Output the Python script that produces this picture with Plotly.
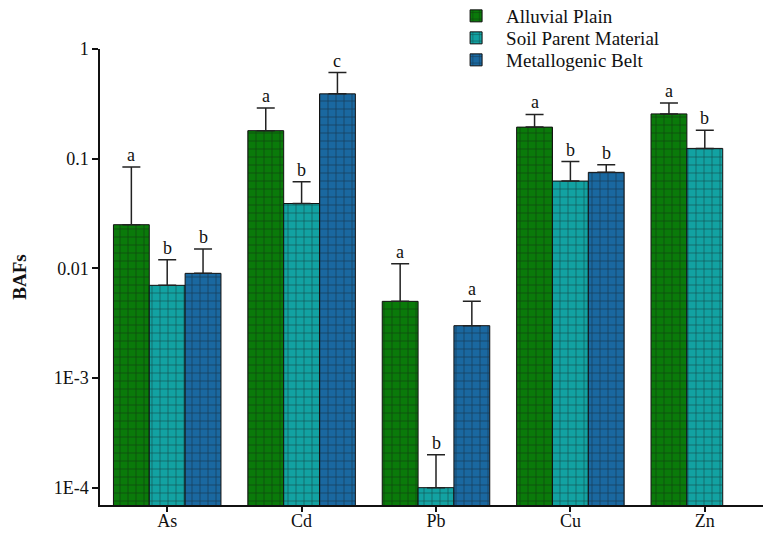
import math
import plotly.graph_objects as go

elements = ["As", "Cd", "Pb", "Cu", "Zn"]
series_names = ["Alluvial Plain", "Soil Parent Material", "Metallogenic Belt"]
alluvial = [0.025, 0.18, 0.005, 0.194, 0.256]
alluvial_top = [0.084, 0.29, 0.011, 0.253, 0.322]
parent = [0.007, 0.039, 0.0001, 0.0625, 0.124]
parent_top = [0.012, 0.0615, 0.0002, 0.094, 0.182]
belt = [0.009, 0.39, 0.003, 0.075, None]
belt_top = [0.015, 0.61, 0.005, 0.088, None]
alluvial_letters = ["a", "a", "a", "a", "a"]
parent_letters = ["b", "b", "b", "b", "b"]
belt_letters = ["b", "c", "a", "b", None]

colors = ["#0A7A0A", "#12A2A2", "#1A68A0"]
serif = "'Liberation Serif', 'Times New Roman', serif"

values = [alluvial, parent, belt]
tops = [alluvial_top, parent_top, belt_top]
letters = [alluvial_letters, parent_letters, belt_letters]
legend_ids = ["legend", "legend2", "legend3"]
legend_rows_px = [8, 30, 52]

fig = go.Figure()
for i in range(3):
    vals = values[i]
    errs = [(t - v) if (t is not None and v is not None) else None for v, t in zip(vals, tops[i])]
    fig.add_trace(go.Bar(
        name=series_names[i], x=elements, y=vals, legend=legend_ids[i],
        marker=dict(color=colors[i], line=dict(color="#111111", width=1),
                    pattern=dict(shape="+", fgcolor="#111111", bgcolor=colors[i],
                                 size=8, solidity=0.18, fillmode="overlay")),
        error_y=dict(type="data", array=errs, arrayminus=[0]*len(errs), symmetric=False,
                     color="#222222", thickness=1.5, width=9),
    ))

bar_w = 0.8 / 3
for i in range(3):
    for j, el in enumerate(elements):
        if letters[i][j] is None:
            continue
        fig.add_annotation(x=j + (i - 1) * bar_w, y=math.log10(tops[i][j]),
                           xref="x", yref="y", text=letters[i][j], showarrow=False,
                           yanchor="bottom", yshift=0,
                           font=dict(family=serif, size=18, color="#111111"))

plot_top, plot_h = 41, 456
legend_layouts = {}
for i, lid in enumerate(legend_ids):
    legend_layouts[lid] = dict(
        x=0.515, y=1 + (plot_top - legend_rows_px[i]) / plot_h, xref="paper", yref="paper",
        xanchor="left", yanchor="middle",
        font=dict(family=serif, size=19, color="#111111"),
        bgcolor="rgba(0,0,0,0)", itemwidth=50)

fig.update_layout(
    width=771, height=533,
    margin=dict(l=92, r=7, t=41, b=36, autoexpand=False),
    paper_bgcolor="white", plot_bgcolor="white",
    barmode="group", bargap=0.2, bargroupgap=0,
    font=dict(family=serif, size=18, color="#111111"),
    showlegend=True,
    **legend_layouts,
)
fig.update_xaxes(
    type="category", range=[-0.5, 4.5], showline=True, linecolor="#111111", linewidth=1.5,
    ticks="outside", ticklen=5, tickwidth=1.5, tickcolor="#111111", showgrid=False,
    tickfont=dict(family=serif, size=18), ticklabelstandoff=-6,
)
fig.update_yaxes(
    type="log", range=[-4.158, 0], showline=True, linecolor="#111111", linewidth=1.5,
    ticks="outside", ticklen=6, tickwidth=1.5, tickcolor="#111111", showgrid=False,
    tickvals=[1, 0.1, 0.01, 0.001, 0.0001], ticktext=["1", "0.1", "0.01", "1E-3", "1E-4"],
    tickfont=dict(family=serif, size=18),
    title=dict(text="<b>BAFs</b>", font=dict(family=serif, size=19), standoff=22),
    zeroline=False,
)
fig.write_html("out.html")
